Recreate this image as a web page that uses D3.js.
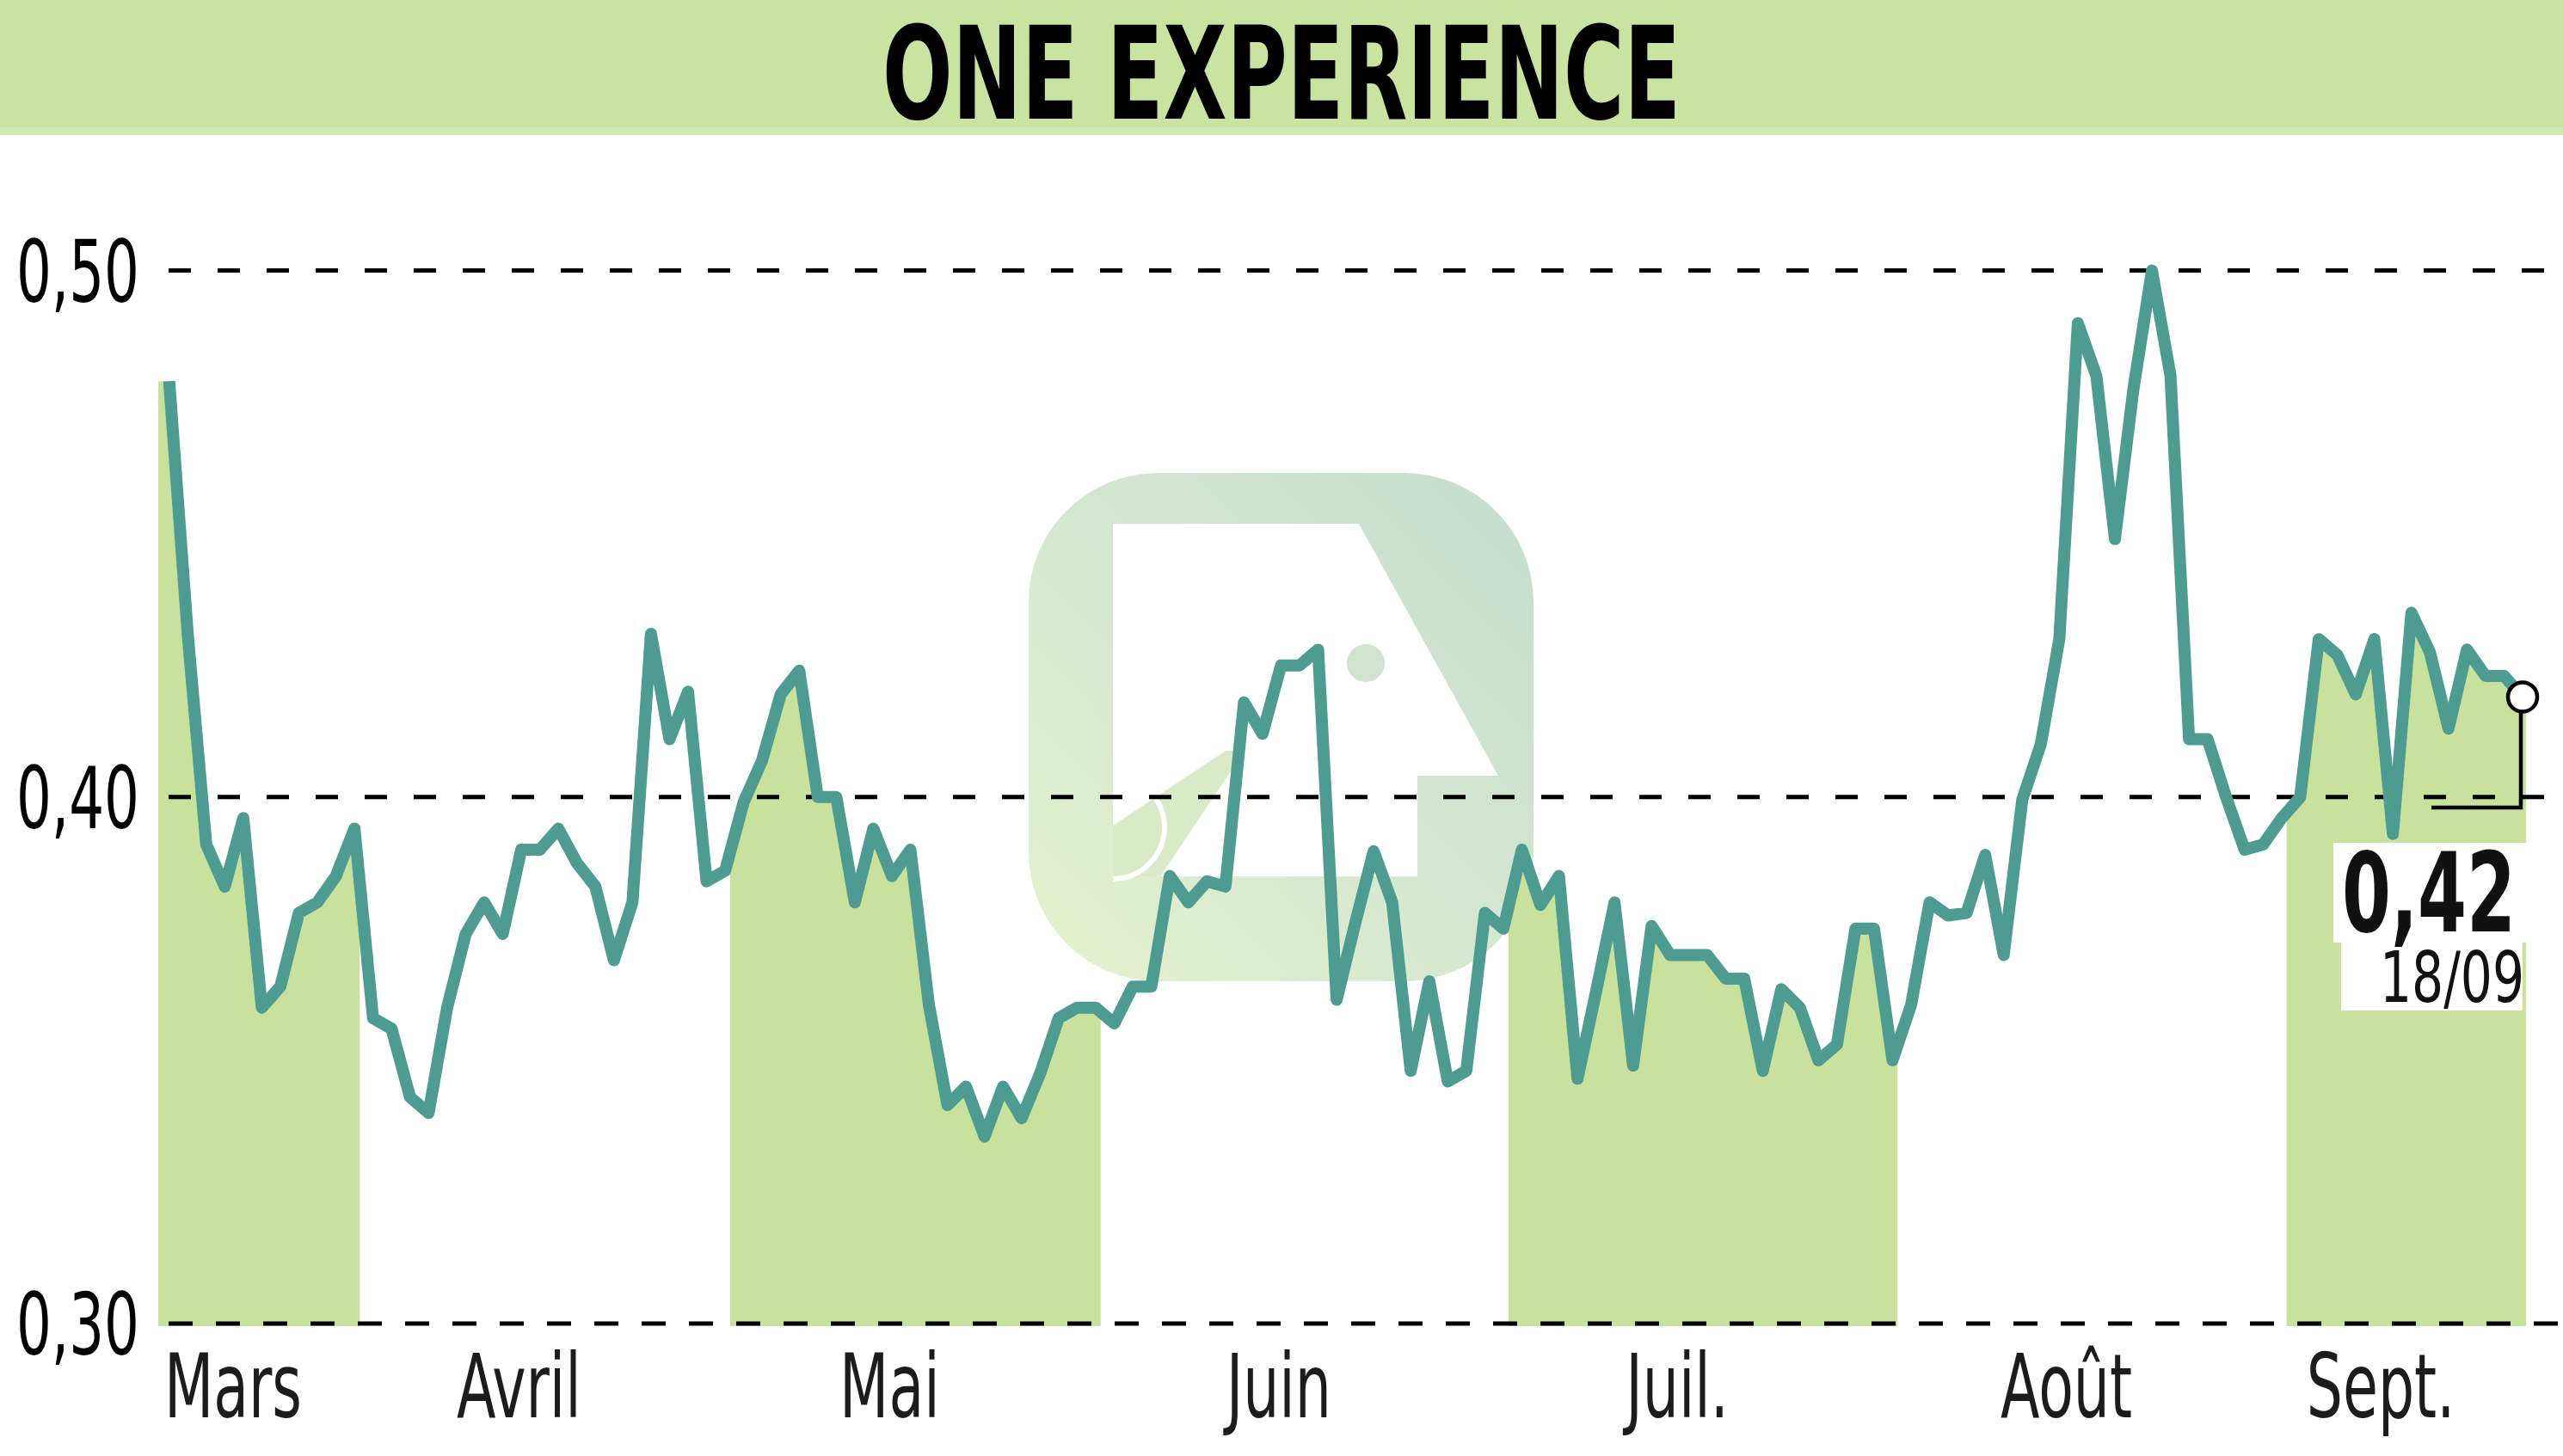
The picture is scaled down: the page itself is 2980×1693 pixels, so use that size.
<!DOCTYPE html>
<html>
<head>
<meta charset="utf-8">
<script src="https://cdn.jsdelivr.net/npm/d3@7"></script>
<style>
  html, body { margin: 0; padding: 0; background: #ffffff; }
  svg { display: block; }
</style>
</head>
<body>
<svg id="chart" width="2980" height="1693"></svg>
<script>
// ---------------- DATA ----------------
const title = "ONE EXPERIENCE";
const months = ["Mars", "Avril", "Mai", "Juin", "Juil.", "Août", "Sept."];
const monthStart = [0, 11, 31, 51, 73, 94, 115];   // index of first trading day of each month
const yTicks = [0.30, 0.40, 0.50];
const yTickLabels = ["0,30", "0,40", "0,50"];
const lastValueLabel = "0,42";
const lastDateLabel = "18/09";
const values = [
  0.479, 0.431, 0.391, 0.383, 0.396, 0.360, 0.364, 0.378, 0.380, 0.385, 0.394,
  0.358, 0.356, 0.343, 0.340, 0.360, 0.374, 0.380, 0.374, 0.390, 0.390, 0.394,
  0.3875, 0.383, 0.369, 0.380, 0.431, 0.411, 0.420, 0.384, 0.386,
  0.399, 0.407, 0.4195, 0.424, 0.400, 0.400, 0.380, 0.394, 0.385, 0.390,
  0.3605, 0.3415, 0.345, 0.3355, 0.345, 0.339, 0.3475, 0.358, 0.360, 0.360,
  0.357, 0.364, 0.364, 0.385, 0.380, 0.384, 0.383, 0.418, 0.412, 0.425, 0.425,
  0.428, 0.3615, 0.376, 0.3897, 0.380, 0.348, 0.365, 0.346, 0.348, 0.378, 0.375,
  0.390, 0.3795, 0.385, 0.3465, 0.363, 0.380, 0.349, 0.3755, 0.370, 0.370, 0.370,
  0.3655, 0.3655, 0.348, 0.3635, 0.360, 0.350, 0.353, 0.375, 0.375, 0.350,
  0.3605, 0.380, 0.3775, 0.378, 0.389, 0.370, 0.3995, 0.410, 0.430, 0.490, 0.480,
  0.449, 0.4775, 0.500, 0.480, 0.411, 0.411, 0.400, 0.390, 0.391, 0.396,
  0.400, 0.430, 0.427, 0.4195, 0.430, 0.393, 0.435, 0.4275, 0.413, 0.428, 0.423,
  0.423, 0.419
];

// ---------------- SETUP ----------------
const W = 2980, H = 1693;
const svg = d3.select("#chart");
const n = values.length;
const x = d3.scaleLinear().domain([0, n - 1]).range([196.7, 2933]);
const y = d3.scaleLinear().domain([0.30, 0.50]).range([1539, 314.6]);

const FONT = "'Liberation Sans Narrow', 'DejaVu Sans Condensed', 'Liberation Sans', Roboto, sans-serif";
const GREEN = "#c8e29d";
const LINE = "#4d9b91";

// helper: place text at (px,py) and horizontally scale to target width
function placeFit(sel, px, py, targetW) {
  const w = sel.node().getBBox().width;
  const s = targetW / w;
  sel.attr("x", 0).attr("y", 0).attr("transform", `translate(${px},${py}) scale(${s},1)`);
  return s;
}

// ---------------- TITLE BAND ----------------
svg.append("rect").attr("x", 0).attr("y", 0).attr("width", W).attr("height", 157).attr("fill", "#c9e3a0");
svg.append("rect").attr("x", 0).attr("y", 148).attr("width", W).attr("height", 9).attr("fill", "#d2e8b1");
const t = svg.append("text")
  .attr("text-anchor", "middle")
  .attr("font-family", FONT).attr("font-weight", "bold").attr("font-size", 150)
  .attr("fill", "#000").text(title);
placeFit(t, 1490, 138, 928);

// ---------------- WATERMARK LOGO ----------------
const defs = svg.append("defs");
const grad = defs.append("linearGradient").attr("id", "logoGrad")
  .attr("x1", "0%").attr("y1", "100%").attr("x2", "100%").attr("y2", "0%");
grad.append("stop").attr("offset", "0%").attr("stop-color", "#e6f1cf");
grad.append("stop").attr("offset", "100%").attr("stop-color", "#c3ddd0");
const logo = svg.append("g");
logo.append("rect").attr("x", 1196).attr("y", 550).attr("width", 587).attr("height", 591)
  .attr("rx", 150).attr("ry", 150).attr("fill", "url(#logoGrad)");
logo.append("path").attr("fill", "#ffffff")
  .attr("d", "M1294,609 L1580,609 L1742,902 L1648,902 L1648,1019 L1294,1019 Z");
logo.append("path").attr("fill", "#d9eac8")
  .attr("d", "M1294,960 L1425,873 L1447,873 L1349,1019 L1294,1019 Z");
logo.append("circle").attr("cx", 1588).attr("cy", 771).attr("r", 22).attr("fill", "#cfe3cf");
logo.append("path")
  .attr("d", d3.arc()({innerRadius: 57, outerRadius: 63, startAngle: 0.28, endAngle: Math.PI}))
  .attr("fill", "#ffffff")
  .attr("transform", "translate(1294,962)");

// ---------------- MONTH BANDS (fill under line) ----------------
const bandEdges = monthStart.map((s, i) => i === 0 ? -0.6 : s - 0.73).concat([n - 1 + 0.2]);
const bands = months.map((m, i) => ({ name: m, i0: bandEdges[i], i1: bandEdges[i + 1], shaded: i % 2 === 0 }));

const clip = defs.append("clipPath").attr("id", "bandClip");
clip.selectAll("rect").data(bands.filter(b => b.shaded)).join("rect")
  .attr("x", d => x(d.i0)).attr("width", d => x(d.i1) - x(d.i0))
  .attr("y", 0).attr("height", H);

const areaPts = [{ i: -0.6, v: values[0] }]
  .concat(values.map((v, i) => ({ i, v })))
  .concat([{ i: n - 1 + 0.2, v: values[n - 1] }]);
const area = d3.area().x(d => x(d.i)).y0(y(0.30) + 3).y1(d => y(d.v));
svg.append("path").datum(areaPts).attr("d", area).attr("fill", GREEN)
  .attr("clip-path", "url(#bandClip)");

// ---------------- GRID LINES + Y LABELS ----------------
const grid = svg.append("g");
grid.selectAll("line").data(yTicks).join("line")
  .attr("x1", 196).attr("x2", W)
  .attr("y1", d => y(d)).attr("y2", d => y(d))
  .attr("stroke", "#000").attr("stroke-width", 5)
  .attr("stroke-dasharray", d => d === 0.30 ? "28,27" : "26,31");

yTicks.forEach((tv, k) => {
  const lbl = svg.append("text").attr("font-family", FONT).attr("font-size", 100)
    .attr("fill", "#000").attr("text-anchor", "start").text(yTickLabels[k]);
  placeFit(lbl, 19, y(tv) + 36, 143);
});

// ---------------- LINE ----------------
const line = d3.line().x((d, i) => x(i)).y(d => y(d));
svg.append("path").datum(values).attr("d", line)
  .attr("fill", "none").attr("stroke", LINE).attr("stroke-width", 14)
  .attr("stroke-linejoin", "round").attr("stroke-linecap", "butt");

// ---------------- MONTH LABELS ----------------
let monthScale = null;
bands.forEach((b, i) => {
  const cx = (x(b.i0) + x(b.i1)) / 2 - 30;
  const lbl = svg.append("text").attr("font-family", FONT).attr("font-size", 104)
    .attr("fill", "#1c1c1c").attr("text-anchor", "middle").text(b.name);
  if (monthScale === null) {
    monthScale = placeFit(lbl, cx, 1648, 160);
  } else {
    lbl.attr("x", 0).attr("y", 0).attr("transform", `translate(${cx},1648) scale(${monthScale},1)`);
  }
});

// ---------------- LAST VALUE MARKER ----------------
const lx = x(n - 1), ly = y(values[n - 1]);
svg.append("path")
  .attr("d", `M${lx - 2},${ly + 17} L${lx - 2},939 L2827,939`)
  .attr("fill", "none").attr("stroke", "#000").attr("stroke-width", 4.5);
svg.append("circle").attr("cx", lx).attr("cy", ly).attr("r", 17)
  .attr("fill", "#fff").attr("stroke", "#000").attr("stroke-width", 4.5);

svg.append("rect").attr("x", 2713).attr("y", 980).attr("width", 225).attr("height", 116).attr("fill", "#fff");
svg.append("rect").attr("x", 2722).attr("y", 1095).attr("width", 211).attr("height", 80).attr("fill", "#fff");
const v42 = svg.append("text").attr("font-family", FONT).attr("font-weight", "bold")
  .attr("font-size", 128).attr("fill", "#111").attr("text-anchor", "end").text(lastValueLabel);
placeFit(v42, 2925, 1083, 202);
const d18 = svg.append("text").attr("font-family", FONT)
  .attr("font-size", 82).attr("fill", "#111").attr("text-anchor", "end").text(lastDateLabel);
placeFit(d18, 2935, 1165, 168);
</script>
</body>
</html>
